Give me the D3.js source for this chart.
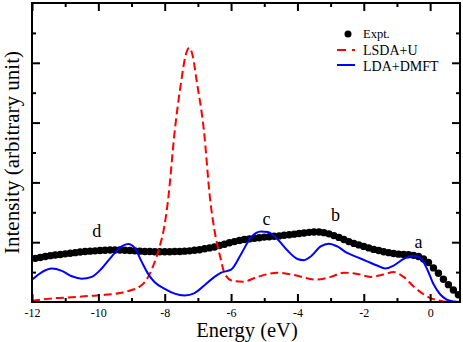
<!DOCTYPE html>
<html>
<head>
<meta charset="utf-8">
<script src="https://cdn.jsdelivr.net/npm/d3@7/dist/d3.min.js"></script>
<style>
  html, body { margin: 0; padding: 0; background: #fff; }
  svg { display: block; font-family: "Liberation Serif", "Times New Roman", serif; }
</style>
</head>
<body>
<svg id="chart" width="463" height="342"></svg>
<script>
// ---- data ----
const xTicks = [-12, -10, -8, -6, -4, -2, 0];
const xMinorTicks = [-11, -9, -7, -5, -3, -1];
const yMajorTicks = [1, 2, 3, 4];
const yMinorTicks = [0.5, 1.5, 2.5, 3.5, 4.5];

const exptEnergy = [
  -12.05, -11.9, -11.75, -11.6, -11.45, -11.3, -11.15, -11.0, -10.85, -10.7,
  -10.55, -10.4, -10.25, -10.1, -9.95, -9.8, -9.65, -9.5, -9.35, -9.2,
  -9.05, -8.9, -8.75, -8.6, -8.45, -8.3, -8.15, -8.0, -7.85, -7.7,
  -7.55, -7.4, -7.25, -7.1, -6.95, -6.8, -6.65, -6.5, -6.35, -6.2,
  -6.05, -5.9, -5.75, -5.6, -5.45, -5.3, -5.15, -5.0, -4.85, -4.7,
  -4.55, -4.4, -4.25, -4.1, -3.95, -3.8, -3.65, -3.5, -3.35, -3.2,
  -3.05, -2.9, -2.75, -2.6, -2.45, -2.3, -2.15, -2.0, -1.85, -1.7,
  -1.55, -1.4, -1.25, -1.1, -0.95, -0.8, -0.65, -0.5, -0.35, -0.2,
  -0.05, 0.1, 0.25, 0.4, 0.55, 0.7, 0.85
];
const exptIntensity = [
  0.715, 0.73, 0.745, 0.76, 0.775, 0.785, 0.795, 0.805, 0.815, 0.825,
  0.835, 0.845, 0.85, 0.855, 0.86, 0.865, 0.87, 0.87, 0.87, 0.865,
  0.86, 0.855, 0.85, 0.845, 0.845, 0.84, 0.84, 0.84, 0.84, 0.845,
  0.845, 0.85, 0.855, 0.865, 0.875, 0.89, 0.905, 0.92, 0.945, 0.965,
  0.99, 1.01, 1.03, 1.045, 1.055, 1.065, 1.075, 1.085, 1.09, 1.10,
  1.105, 1.115, 1.125, 1.135, 1.145, 1.155, 1.165, 1.17, 1.17, 1.16,
  1.14, 1.11, 1.08, 1.045, 1.01, 0.98, 0.955, 0.93, 0.905, 0.88,
  0.86, 0.84, 0.825, 0.81, 0.80, 0.795, 0.79, 0.78, 0.76, 0.72,
  0.66, 0.57, 0.48, 0.38, 0.29, 0.20, 0.12
];

const lsdaEnergy = [
  -12, -11.4, -10.8, -10.3, -9.8, -9.35, -9.0, -8.8, -8.55, -8.35,
  -8.15, -8.0, -7.9, -7.7, -7.5, -7.38, -7.26, -7.15, -7.04, -6.82,
  -6.63, -6.5, -6.33, -6.18, -5.94, -5.64, -5.2, -4.6, -4.1, -3.45,
  -3.0, -2.6, -2.2, -1.8, -1.4, -1.1, -0.8, -0.5, -0.2, 0.0,
  0.3, 0.6, 0.9
];
const lsdaIntensity = [
  0.02, 0.06, 0.08, 0.10, 0.12, 0.15, 0.20, 0.24, 0.37, 0.60,
  0.93, 1.30, 1.70, 2.85, 3.70, 4.10, 4.25, 4.10, 3.71, 2.875,
  1.71, 1.20, 0.76, 0.46, 0.35, 0.34, 0.42, 0.49, 0.45, 0.375,
  0.42, 0.49, 0.47, 0.42, 0.46, 0.50, 0.42, 0.26, 0.13, 0.07,
  0.02, 0.0, 0.0
];

const dmftEnergy = [
  -12, -11.7, -11.4, -11.1, -10.8, -10.5, -10.2, -9.9, -9.6, -9.3,
  -9.1, -8.9, -8.7, -8.5, -8.3, -8.0, -7.7, -7.4, -7.1, -6.8,
  -6.5, -6.3, -6.0, -5.7, -5.4, -5.1, -4.9, -4.6, -4.3, -4.0,
  -3.8, -3.6, -3.3, -3.05, -2.8, -2.5, -2.2, -1.9, -1.6, -1.35,
  -1.1, -0.8, -0.5, -0.3, -0.1, 0.1, 0.3, 0.5, 0.7, 0.9
];
const dmftIntensity = [
  0.37, 0.50, 0.56, 0.52, 0.43, 0.39, 0.42, 0.56, 0.76, 0.93,
  0.97, 0.90, 0.68, 0.47, 0.33, 0.22, 0.14, 0.11, 0.15, 0.28,
  0.42, 0.49, 0.54, 0.80, 1.08, 1.18, 1.17, 1.05, 0.86, 0.72,
  0.70, 0.76, 0.93, 0.975, 0.93, 0.82, 0.75, 0.68, 0.61, 0.56,
  0.61, 0.72, 0.775, 0.74, 0.56, 0.30, 0.13, 0.04, 0.01, 0.0
];

const peakLabels = ["d", "c", "b", "a"];
const peakLabelEnergy = [-10.05, -4.93, -2.85, -0.35];
const peakLabelIntensity = [1.08, 1.29, 1.35, 0.9];

const legendNames = ["Expt.", "LSDA+U", "LDA+DMFT"];

// ---- layout ----
(function () {
const svg = d3.select("#chart");
const mL = 32, mR = 460, mT = 3, mB = 302;
const x = d3.scaleLinear().domain([-12, 0.9]).range([mL, mR]);
const y = d3.scaleLinear().domain([0, 5]).range([mB, mT]);

svg.append("rect").attr("width", 463).attr("height", 342).attr("fill", "#fff");

svg.append("defs").append("clipPath").attr("id", "clip")
  .append("rect").attr("x", mL).attr("y", mT)
  .attr("width", mR - mL).attr("height", mB - mT);

const plot = svg.append("g").attr("clip-path", "url(#clip)");

// experimental dots
plot.append("g").selectAll("circle")
  .data(exptEnergy.map((e, i) => [e, exptIntensity[i]]))
  .join("circle")
  .attr("cx", d => x(d[0]))
  .attr("cy", d => y(d[1]))
  .attr("r", 3.7)
  .attr("fill", "#000");

const line = d3.line().x(d => x(d[0])).y(d => y(d[1])).curve(d3.curveMonotoneX);

plot.append("path")
  .datum(lsdaEnergy.map((e, i) => [e, lsdaIntensity[i]]))
  .attr("d", line)
  .attr("fill", "none")
  .attr("stroke", "#ff0000")
  .attr("stroke-width", 2)
  .attr("stroke-dasharray", "8,4");

plot.append("path")
  .datum(dmftEnergy.map((e, i) => [e, dmftIntensity[i]]))
  .attr("d", line)
  .attr("fill", "none")
  .attr("stroke", "#0000ff")
  .attr("stroke-width", 2);

// axes (ticks inward)
function axisTicks(axisGen, transform, major, minor) {
  const g1 = svg.append("g").attr("transform", transform)
    .call(axisGen.tickValues(major).tickSizeInner(-8).tickSizeOuter(0));
  const g2 = svg.append("g").attr("transform", transform)
    .call(axisGen.tickValues(minor).tickSizeInner(-4).tickSizeOuter(0).tickFormat(""));
  [g1, g2].forEach(g => {
    g.select(".domain").remove();
    g.selectAll(".tick line").attr("stroke", "#000").attr("stroke-width", 2);
  });
  return g1;
}

const xb = axisTicks(d3.axisBottom(x), `translate(0,${mB})`, xTicks, xMinorTicks);
xb.selectAll(".tick text")
  .attr("font-size", 12).attr("font-family", "Liberation Serif")
  .attr("fill", "#000").attr("y", 15).attr("dy", null)
  .text(d => String(d));
axisTicks(d3.axisTop(x), `translate(0,${mT})`, xTicks, xMinorTicks)
  .selectAll(".tick text").remove();
axisTicks(d3.axisLeft(y), `translate(${mL},0)`, yMajorTicks, yMinorTicks)
  .selectAll(".tick text").remove();
axisTicks(d3.axisRight(y), `translate(${mR},0)`, yMajorTicks, yMinorTicks)
  .selectAll(".tick text").remove();

// frame
svg.append("rect")
  .attr("x", mL).attr("y", mT)
  .attr("width", mR - mL).attr("height", mB - mT)
  .attr("fill", "none").attr("stroke", "#000").attr("stroke-width", 2);

// axis titles
svg.append("text")
  .attr("x", (mL + mR) / 2 + 1).attr("y", 336.5)
  .attr("text-anchor", "middle").attr("font-size", 20.5).attr("fill", "#000")
  .text("Energy (eV)");
svg.append("text")
  .attr("transform", `translate(18.5,${(mT + mB) / 2}) rotate(-90)`)
  .attr("text-anchor", "middle").attr("font-size", 21).attr("fill", "#000")
  .text("Intensity (arbitrary unit)");

// peak labels
svg.append("g").selectAll("text")
  .data(peakLabels)
  .join("text")
  .attr("x", (d, i) => x(peakLabelEnergy[i]))
  .attr("y", (d, i) => y(peakLabelIntensity[i]))
  .attr("text-anchor", "middle").attr("font-size", 18).attr("fill", "#000")
  .text(d => d);

// legend
const lg = svg.append("g");
lg.append("circle").attr("cx", 348).attr("cy", 34).attr("r", 3.5).attr("fill", "#000");
lg.append("line").attr("x1", 337).attr("x2", 355).attr("y1", 50).attr("y2", 50)
  .attr("stroke", "#ff0000").attr("stroke-width", 2).attr("stroke-dasharray", "9,6");
lg.append("line").attr("x1", 337).attr("x2", 355).attr("y1", 65).attr("y2", 65)
  .attr("stroke", "#0000ff").attr("stroke-width", 2);
const legendY = [38, 55, 70.5];
const legendSize = [12.5, 14, 14];
lg.selectAll("text.leg")
  .data(legendNames)
  .join("text")
  .attr("class", "leg")
  .attr("x", 363).attr("y", (d, i) => legendY[i])
  .attr("font-size", (d, i) => legendSize[i]).attr("fill", "#000")
  .text(d => d);
})();
</script>
</body>
</html>
